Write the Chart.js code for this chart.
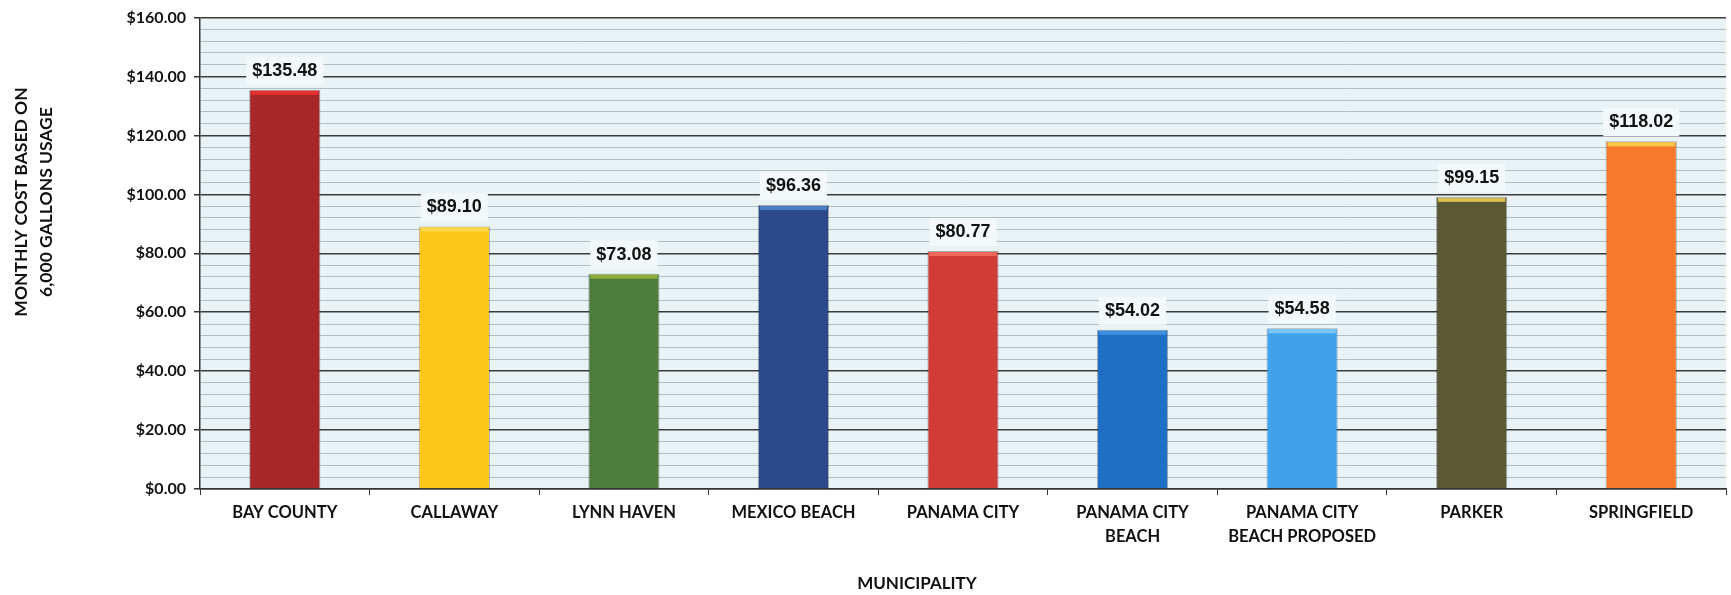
<!DOCTYPE html>
<html>
<head>
<meta charset="utf-8">
<script src="https://cdn.jsdelivr.net/npm/chart.js@4/dist/chart.umd.min.js"></script>
<style>
  html, body { margin: 0; padding: 0; background: #ffffff; }
  #wrap { width: 1731px; height: 595px; position: relative; }
</style>
</head>
<body>
<div id="wrap"><canvas id="chart" width="1731" height="595"></canvas></div>
<script>
// Chart data
const municipalities = [
  'BAY COUNTY', 'CALLAWAY', 'LYNN HAVEN', 'MEXICO BEACH', 'PANAMA CITY',
  ['PANAMA CITY', 'BEACH'], ['PANAMA CITY', 'BEACH PROPOSED'], 'PARKER', 'SPRINGFIELD'
];
const monthlyCost = [135.48, 89.10, 73.08, 96.36, 80.77, 54.02, 54.58, 99.15, 118.02];
const barColors = [
  '#a8272b', '#fdc618', '#4e7c3c', '#2c4a8a', '#d23c36',
  '#1f6fc6', '#40a2ea', '#5a5a37', '#f77a2c'
];
const barTopColors = [
  '#e8302e', '#ffd84a', '#8fae3c', '#4a7fc8', '#ee6a5a',
  '#3d8ee0', '#7cc4f4', '#d8c050', '#f8c848'
];
const yTitleLines = ['MONTHLY COST BASED ON', '6,000 GALLONS USAGE'];
const xTitle = 'MUNICIPALITY';

const money = v => '$' + v.toFixed(2);

// Plot background
const plotBackground = {
  id: 'plotBackground',
  beforeDraw(chart) {
    const { ctx, chartArea: a } = chart;
    ctx.save();
    ctx.fillStyle = '#e9f3f6';
    ctx.fillRect(a.left, a.top, a.right - a.left, a.bottom - a.top);
    ctx.restore();
  }
};

// Value labels above bars (plus the lighter bar cap)
const valueLabels = {
  id: 'valueLabels',
  afterDatasetsDraw(chart) {
    const { ctx } = chart;
    const meta = chart.getDatasetMeta(0);
    ctx.save();
    meta.data.forEach((bar, i) => {
      ctx.fillStyle = barTopColors[i];
      ctx.fillRect(bar.x - bar.width / 2 + 2, bar.y + 1, bar.width - 4, 4);
    });
    ctx.font = 'bold 18px "Liberation Sans", Arial, sans-serif';
    ctx.textAlign = 'center';
    ctx.textBaseline = 'middle';
    meta.data.forEach((bar, i) => {
      const text = money(monthlyCost[i]);
      const w = ctx.measureText(text).width + 12;
      const y = bar.y - 19;
      ctx.fillStyle = '#f3f9fa';
      ctx.fillRect(bar.x - w / 2, y - 14, w, 28);
      ctx.fillStyle = '#111111';
      ctx.fillText(text, bar.x, y);
    });
    ctx.restore();
  }
};

// Axis titles
const axisTitles = {
  id: 'axisTitles',
  afterDraw(chart) {
    const { ctx } = chart;
    ctx.save();
    ctx.fillStyle = '#111111';
    ctx.font = 'bold 17.5px Lato, "Open Sans", sans-serif';
    ctx.textAlign = 'center';
    ctx.textBaseline = 'middle';
    ctx.translate(34, 202);
    ctx.rotate(-Math.PI / 2);
    ctx.fillText(yTitleLines[0], 0, -12.5);
    ctx.fillText(yTitleLines[1], 0, 12.5);
    ctx.restore();

    ctx.save();
    ctx.fillStyle = '#111111';
    ctx.font = 'bold 17px Lato, "Open Sans", sans-serif';
    ctx.textAlign = 'center';
    ctx.textBaseline = 'middle';
    ctx.fillText(xTitle, 917, 584);
    ctx.restore();
  }
};

new Chart(document.getElementById('chart').getContext('2d'), {
  type: 'bar',
  data: {
    labels: municipalities,
    datasets: [{
      data: monthlyCost,
      backgroundColor: barColors,
      borderColor: 'rgba(0,0,0,0.3)',
      borderWidth: 1,
      barPercentage: 0.42,
      categoryPercentage: 1.0
    }]
  },
  options: {
    responsive: false,
    animation: false,
    layout: { padding: { top: 12, right: 5, left: 0, bottom: 0 } },
    plugins: {
      legend: { display: false },
      tooltip: { enabled: false }
    },
    scales: {
      x: {
        offset: true,
        grid: {
          offset: true,
          drawOnChartArea: false,
          color: '#333333',
          tickLength: 6
        },
        border: { color: '#333333', width: 1.5 },
        ticks: {
          color: '#111111',
          font: { family: 'Lato, "Open Sans", sans-serif', size: 16.5, weight: 'bold', lineHeight: 1.45 },
          maxRotation: 0,
          autoSkip: false,
          padding: 6
        },
        afterFit(scale) { scale.height = 106; }
      },
      y: {
        min: 0,
        max: 160,
        ticks: {
          stepSize: 4,
          autoSkip: false,
          color: '#111111',
          padding: 8,
          font: { family: 'Lato, "Open Sans", sans-serif', size: 16, weight: 'bold' },
          callback: v => (v % 20 === 0 ? money(v) : '')
        },
        grid: {
          color: c => (c.tick.value % 20 === 0 ? '#3c3c3c' : '#aebfc6'),
          lineWidth: c => (c.tick.value % 20 === 0 ? 1.5 : 1),
          tickColor: c => (c.tick.value % 20 === 0 ? '#333333' : 'rgba(0,0,0,0)'),
          tickLength: 6
        },
        border: { color: '#333333', width: 1.5 },
        afterFit(scale) { scale.width = 200; }
      }
    }
  },
  plugins: [plotBackground, valueLabels, axisTitles]
});
</script>
</body>
</html>
